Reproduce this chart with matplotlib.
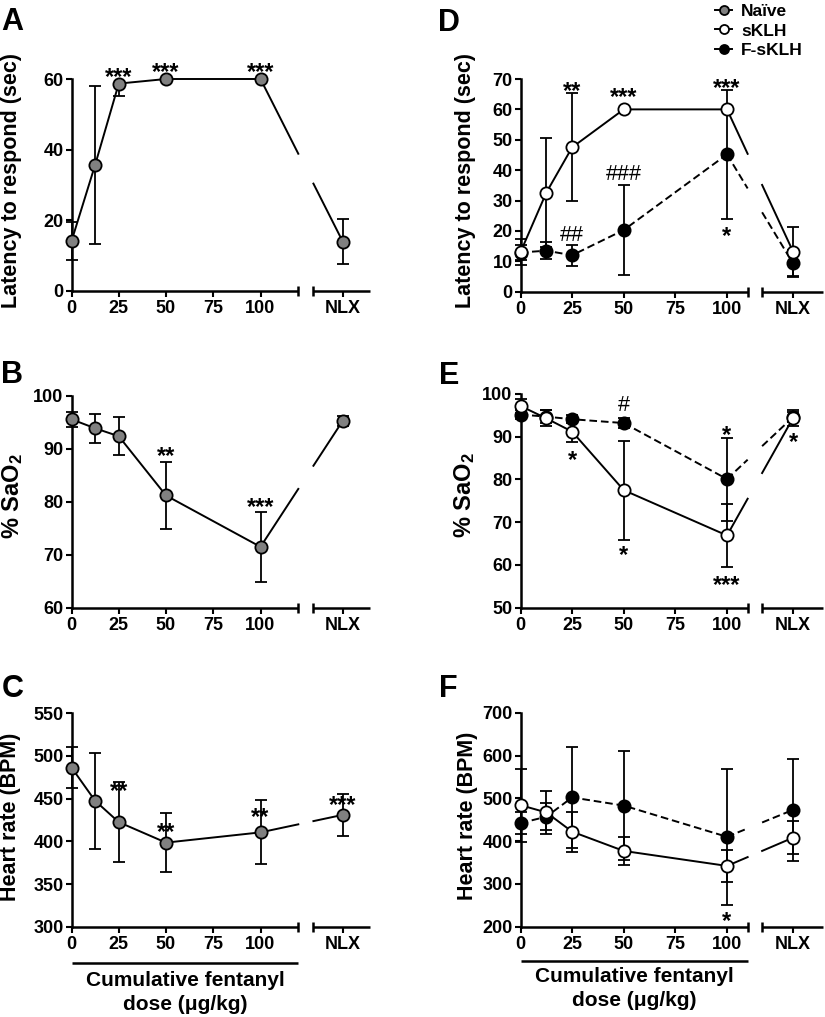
import numpy as np
import matplotlib
matplotlib.use('Agg')
import matplotlib.pyplot as plt
from matplotlib.lines import Line2D
from matplotlib.transforms import blended_transform_factory

plt.rcParams['font.family'] = ['Liberation Sans', 'DejaVu Sans']
plt.rcParams['font.weight'] = 'bold'
plt.rcParams['mathtext.fontset'] = 'custom'
plt.rcParams['mathtext.rm'] = 'Liberation Sans:bold'
plt.rcParams['mathtext.it'] = 'Liberation Sans:bold'
plt.rcParams['mathtext.bf'] = 'Liberation Sans:bold'
plt.rcParams['lines.scale_dashes'] = False

# ---------------- data ----------------
doses = [0, 12.5, 25, 50, 100]
xtick_doses = [0, 25, 50, 75, 100]
xtick_labels = ['0', '25', '50', '75', '100', 'NLX']
groups = ['Naïve', 'sKLH', 'F-sKLH']

# values: 0, 12.5, 25, 50, 100 µg/kg, NLX
naive_latency = [14.1, 35.7, 58.7, 60.0, 60.0, 14.0]
naive_latency_lo = [5.3, 22.3, 3.5, 0, 0, 6.4]
naive_latency_hi = [5.3, 22.3, 0, 0, 0, 6.4]

naive_sao2 = [95.6, 93.9, 92.4, 81.2, 71.5, 95.3]
naive_sao2_err = [1.4, 2.7, 3.6, 6.4, 6.6, 1.0]

naive_hr = [486.5, 447.5, 422.5, 398.5, 410.5, 431.0]
naive_hr_err = [23.5, 56.0, 47.0, 34.5, 37.5, 24.5]

sklh_latency = [13.0, 32.6, 47.5, 60.0, 60.0, 13.2]
sklh_latency_err = [4.2, 17.9, 17.8, 0, 0, 8.0]
fsklh_latency = [12.9, 13.5, 12.0, 20.3, 45.2, 9.3]
fsklh_latency_err = [2.5, 2.8, 3.4, 14.8, 21.3, 4.4]

sklh_sao2 = [97.2, 94.3, 91.2, 77.5, 66.9, 94.4]
sklh_sao2_err = [1.6, 1.9, 2.4, 11.6, 7.4, 1.8]
fsklh_sao2 = [95.2, 94.7, 94.1, 93.2, 80.1, 94.6]
fsklh_sao2_err = [1.0, 1.5, 0.9, 1.2, 9.7, 1.2]

sklh_hr = [484, 467, 422, 377, 342, 408]
sklh_hr_err = [85, 51, 47, 33, 37, 38]
fsklh_hr = [442, 457, 502, 483, 410, 473]
fsklh_hr_err = [25, 32, 117, 128, 159, 119]

# significance marks: (x index, y centre, text)
marks_A = [(2, 62.5, '***'), (3, 63.8, '***'), (4, 63.8, '***')]
marks_B = [(3, 89.8, '**'), (4, 80.3, '***')]
marks_C = [(2, 466, '**'), (3, 418, '**'), (4, 436, '**'), (5, 449.6, '***')]
marks_D = [(2, 68.1, '**'), (3, 66.3, '***'), (4, 69.3, '***'),
           (2, 19.2, '##'), (3, 39.2, '###'), (4, 20.5, '*')]
marks_E = [(3, 97.8, '#'), (2, 86.1, '*'), (3, 63.9, '*'), (4, 91.8, '*'),
           (4, 56.9, '***'), (5, 90.2, '*')]
marks_F = [(4, 227.3, '*')]

# ---------------- layout ----------------
W, H = 825, 1017
fig = plt.figure(figsize=(W / 100, H / 100), dpi=100)

LEFT = dict(x0=71.5, ppu=1.89, seg1=120, seg2=128, nlx=143.5, xmax=158)
RIGHT = dict(x0=520.5, ppu=2.065, seg1=110, seg2=117, nlx=132, xmax=146.5)

LW_AX = 1.8
LW = 1.4
MS = 8.8
FS_TICK = 13
FS_LAB = 15.5
FS_STAR = 17
FS_HASH = 15.5


def make_axes(col, ytop, ybot):
    x1 = col['x0'] + col['xmax'] * col['ppu']
    return fig.add_axes([col['x0'] / W, 1 - ybot / H, (x1 - col['x0']) / W, (ybot - ytop) / H])


def setup(ax, col, ylim, yticks):
    ax.set_xlim(0, col['xmax'])
    ax.set_ylim(*ylim)
    ax.patch.set_alpha(0)
    for s in ['top', 'right', 'bottom']:
        ax.spines[s].set_visible(False)
    ax.spines['left'].set_linewidth(LW_AX)
    ax.set_yticks(yticks)
    ax.set_xticks(xtick_doses + [col['nlx']])
    ax.set_xticklabels(xtick_labels)
    ax.tick_params(axis='both', direction='out', length=4.5, width=1.5, labelsize=FS_TICK)
    ax.tick_params(axis='y', pad=1.2)
    ax.tick_params(axis='x', pad=2.0)
    for lab in ax.get_xticklabels() + ax.get_yticklabels():
        lab.set_fontweight('bold')
    tr = blended_transform_factory(ax.transData, ax.transAxes)
    ax.plot([0, col['seg1']], [0, 0], transform=tr, color='k', lw=LW_AX,
            clip_on=False, solid_capstyle='butt', zorder=2.5)
    ax.plot([col['seg2'], col['xmax']], [0, 0], transform=tr, color='k', lw=LW_AX,
            clip_on=False, solid_capstyle='butt', zorder=2.5)
    ax.plot([col['seg1'], col['seg2']], [0, 0], transform=tr, ls='none', marker='|',
            ms=7.5, mew=LW_AX, color='k', clip_on=False, zorder=2.5)


def series(ax, col, y, lo, hi, face, ls, z):
    xs = np.array(doses + [col['nlx']], dtype=float)
    y = np.array(y, dtype=float)
    ax.errorbar(xs, y, yerr=[lo, hi], fmt='none', ecolor='k', elinewidth=1.3,
                capsize=4.2, capthick=1.3, zorder=z, clip_on=False)
    kw = dict(color='k', lw=LW, zorder=z + 0.3, clip_on=False)
    if ls == 'dashed':
        kw['dashes'] = (5.5, 2.8)
    ax.plot(xs[:5], y[:5], **kw)
    xa = [xs[4], col['seg1']]
    ax.plot(xa, np.interp(xa, [xs[4], xs[5]], [y[4], y[5]]), **kw)
    xb = [col['seg2'], xs[5]]
    ax.plot(xb, np.interp(xb, [xs[4], xs[5]], [y[4], y[5]]), **kw)
    ax.plot(xs, y, ls='none', marker='o', ms=MS, mfc=face, mec='k', mew=1.3,
            zorder=z + 0.6, clip_on=False)


def add_marks(ax, col, marks):
    xs = doses + [col['nlx']]
    for i, yc, s in marks:
        if '*' in s:
            fs = FS_STAR
            off = 0.57 * fs
            w = 'bold'
        else:
            fs = FS_HASH
            off = 0.35 * fs
            w = 'normal'
        ax.annotate(s, (xs[i], yc), xytext=(0, -off), textcoords='offset points',
                    ha='center', va='baseline', fontsize=fs, fontweight=w,
                    zorder=10, annotation_clip=False)


def fig_text_center(xp, yp, s, fs, **kw):
    fig.text(xp / W, 1 - yp / H, s, fontsize=fs, fontweight='bold', ha='center', va='center', **kw)


def letter(xp, yp, s):
    fs = 22
    fig.text(xp / W, 1 - (yp + 0.358 * fs * 100 / 72) / H, s, fontsize=fs,
             fontweight='bold', ha='center', va='baseline')


GREY = '#808080'

# Panel A
axA = make_axes(LEFT, 79, 291)
setup(axA, LEFT, (0, 60), [0, 20, 40, 60])
series(axA, LEFT, naive_latency, naive_latency_lo, naive_latency_hi, GREY, 'solid', 3)
add_marks(axA, LEFT, marks_A)

# Panel B
axB = make_axes(LEFT, 396, 607.7)
setup(axB, LEFT, (60, 100), [60, 70, 80, 90, 100])
series(axB, LEFT, naive_sao2, naive_sao2_err, naive_sao2_err, GREY, 'solid', 3)
add_marks(axB, LEFT, marks_B)

# Panel C
axC = make_axes(LEFT, 713.3, 926.7)
setup(axC, LEFT, (300, 550), [300, 350, 400, 450, 500, 550])
series(axC, LEFT, naive_hr, naive_hr_err, naive_hr_err, GREY, 'solid', 3)
add_marks(axC, LEFT, marks_C)

# Panel D
axD = make_axes(RIGHT, 79, 291.7)
setup(axD, RIGHT, (0, 70), list(range(0, 71, 10)))
series(axD, RIGHT, fsklh_latency, fsklh_latency_err, fsklh_latency_err, 'k', 'dashed', 3)
series(axD, RIGHT, sklh_latency, sklh_latency_err, sklh_latency_err, 'white', 'solid', 4)
add_marks(axD, RIGHT, marks_D)

# Panel E
axE = make_axes(RIGHT, 394, 607.7)
setup(axE, RIGHT, (50, 100), [50, 60, 70, 80, 90, 100])
series(axE, RIGHT, fsklh_sao2, fsklh_sao2_err, fsklh_sao2_err, 'k', 'dashed', 3)
series(axE, RIGHT, sklh_sao2, sklh_sao2_err, sklh_sao2_err, 'white', 'solid', 4)
add_marks(axE, RIGHT, marks_E)

# Panel F
axF = make_axes(RIGHT, 712.7, 926.7)
setup(axF, RIGHT, (200, 700), [200, 300, 400, 500, 600, 700])
series(axF, RIGHT, fsklh_hr, fsklh_hr_err, fsklh_hr_err, 'k', 'dashed', 3)
series(axF, RIGHT, sklh_hr, sklh_hr_err, sklh_hr_err, 'white', 'solid', 4)
add_marks(axF, RIGHT, marks_F)

# y labels
fig_text_center(12, 180, 'Latency to respond (sec)', FS_LAB, rotation=90)
fig_text_center(13, 496, r'% SaO$_2$', FS_LAB + 1.5, rotation=90)
fig_text_center(11, 817, 'Heart rate (BPM)', FS_LAB, rotation=90)
fig_text_center(465, 180, 'Latency to respond (sec)', FS_LAB, rotation=90)
fig_text_center(465, 495, r'% SaO$_2$', FS_LAB + 1.5, rotation=90)
fig_text_center(467, 816, 'Heart rate (BPM)', FS_LAB, rotation=90)

# panel letters
for xp, yp, s in [(12.5, 19.5, 'A'), (12, 372.5, 'B'), (12.5, 686, 'C'),
                  (449, 20, 'D'), (449, 373, 'E'), (448, 686, 'F')]:
    letter(xp, yp, s)

# cumulative dose labels
for ax, col, yline, y1, y2 in [(axC, LEFT, 963, 980, 1005), (axF, RIGHT, 960.7, 977, 1001)]:
    tr = blended_transform_factory(ax.transData, fig.transFigure)
    ax.plot([0, col['seg1']], [1 - yline / H] * 2, transform=tr, color='k', lw=LW_AX,
            clip_on=False, solid_capstyle='butt')
    xc_px = col['x0'] + col['seg1'] / 2 * col['ppu']
    fig_text_center(xc_px, y1, 'Cumulative fentanyl', 15)
    fig_text_center(xc_px, y2, 'dose (μg/kg)', 15)

# legend
leg_faces = [GREY, 'white', 'k']
for k, (name, face) in enumerate(zip(groups, leg_faces)):
    yc = [10, 29.3, 49][k]
    yf = 1 - yc / H
    fig.add_artist(Line2D([715 / W, 732 / W], [yf, yf], color='k', lw=LW,
                          transform=fig.transFigure))
    fig.add_artist(Line2D([723.5 / W], [yf], color='k', marker='o', ms=6.5, mfc=face,
                          mec='k', mew=1.3, transform=fig.transFigure))
    fig.text(741 / W, 1 - (yc + 0.358 * 12.5 * 100 / 72) / H, name, fontsize=12.5,
             fontweight='bold', ha='left', va='baseline')

fig.savefig('out.png', dpi=100)
